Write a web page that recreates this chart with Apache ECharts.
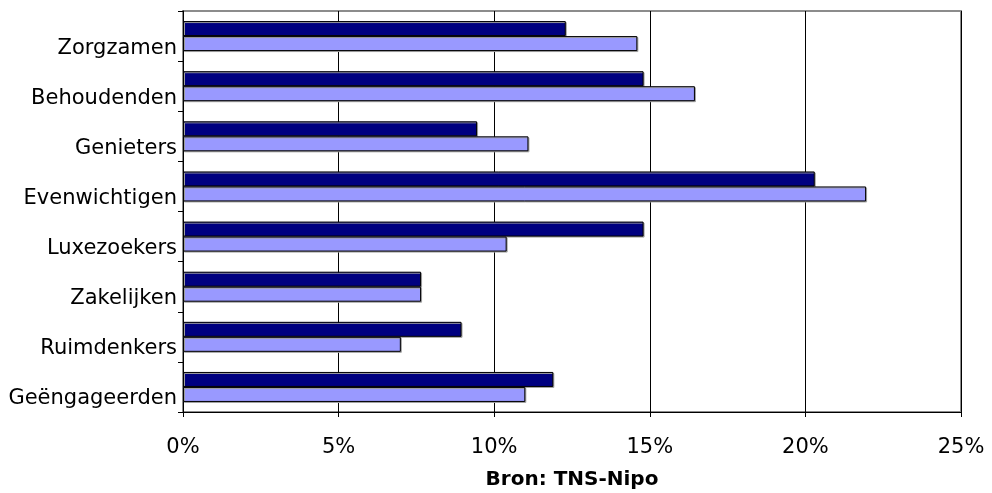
<!DOCTYPE html>
<html>
<head>
<meta charset="utf-8">
<script src="https://cdn.jsdelivr.net/npm/echarts@6/dist/echarts.min.js"></script>
<style>
  html, body { margin: 0; padding: 0; background: #ffffff; }
  #chart { width: 992px; height: 493px; }
</style>
</head>
<body>
<div id="chart"></div>
<script>
// Segments, top to bottom
const categories = ['Zorgzamen', 'Behoudenden', 'Genieters', 'Evenwichtigen', 'Luxezoekers', 'Zakelijken', 'Ruimdenkers', 'Geëngageerden'];
// Share per segment (%), dark and light series
const darkValues = [12.3, 14.8, 9.45, 20.3, 14.8, 7.65, 8.95, 11.9];
const lightValues = [14.6, 16.45, 11.1, 21.95, 10.4, 7.65, 7.0, 11.0];
// Value axis ticks
const xTicks = [0, 5, 10, 15, 20, 25];
const sourceText = 'Bron: TNS-Nipo';

const FONT = '"DejaVu Sans", Verdana, sans-serif';

const chart = echarts.init(document.getElementById('chart'), null, { renderer: 'canvas' });

const barStyle = (color) => ({
  color: color,
  borderColor: '#000000',
  borderWidth: 1,
  shadowColor: '#a0a0a0',
  shadowOffsetX: 1,
  shadowOffsetY: 1,
  shadowBlur: 0
});

chart.setOption({
  animation: false,
  backgroundColor: '#ffffff',
  grid: {
    left: 183, right: 31, top: 11, bottom: 81,
    containLabel: false,
    outerBoundsMode: 'none',
    show: true,
    borderColor: '#8c8c8c',
    borderWidth: 2,
    backgroundColor: '#ffffff'
  },
  xAxis: {
    type: 'value',
    min: xTicks[0],
    max: xTicks[xTicks.length - 1],
    interval: xTicks[1] - xTicks[0],
    axisLine: { show: true, lineStyle: { color: '#000000', width: 1 } },
    axisTick: { show: true, length: 5, lineStyle: { color: '#000000' } },
    splitLine: { show: true, lineStyle: { color: '#000000', width: 1 } },
    axisLabel: {
      color: '#000000', fontFamily: FONT, fontSize: 21, margin: 25,
      formatter: '{value}%'
    },
    name: sourceText,
    nameLocation: 'middle',
    nameGap: 58,
    nameTextStyle: { color: '#000000', fontFamily: FONT, fontSize: 20, fontWeight: 'bold' }
  },
  yAxis: {
    type: 'category',
    data: categories,
    inverse: true,
    axisLine: { show: true, lineStyle: { color: '#000000', width: 1 } },
    axisTick: { show: true, length: 5, lineStyle: { color: '#000000' } },
    splitLine: { show: false },
    axisLabel: {
      color: '#000000', fontFamily: FONT, fontSize: 21, margin: 6,
      verticalAlign: 'top', lineHeight: 24
    }
  },
  series: [
    {
      name: 'donker', type: 'bar', data: darkValues,
      barWidth: 15, barGap: '0%',
      itemStyle: barStyle('#000080')
    },
    {
      name: 'licht', type: 'bar', data: lightValues,
      barWidth: 15, barGap: '0%',
      itemStyle: barStyle('#9999ff')
    }
  ]
});
</script>
</body>
</html>
